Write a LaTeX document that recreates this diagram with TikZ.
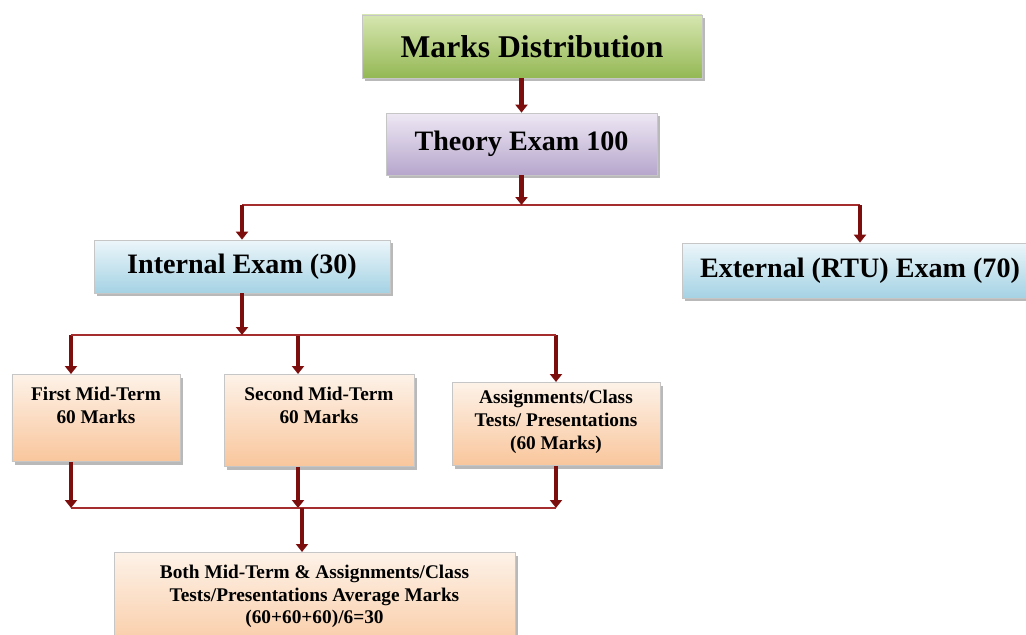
\documentclass[tikz,border=0pt]{standalone}
\usepackage{fontspec}
\setmainfont{Liberation Serif}
\usetikzlibrary{arrows.meta, shadows, calc}
\definecolor{linkred}{RGB}{125,14,14}
\definecolor{barred}{RGB}{165,45,45}
\definecolor{greentop}{RGB}{214,230,176}
\definecolor{greenbot}{RGB}{148,184,84}
\definecolor{lilactop}{RGB}{238,232,244}
\definecolor{lilacbot}{RGB}{182,166,204}
\definecolor{skytop}{RGB}{236,246,250}
\definecolor{skybot}{RGB}{164,210,228}
\definecolor{peachtop}{RGB}{253,242,232}
\definecolor{peachbot}{RGB}{249,198,156}

\begin{document}
\begin{tikzpicture}[
    every node/.style={font=\bfseries},
    box/.style={rectangle, draw=gray!45, line width=0.4pt, align=center, drop shadow={shadow xshift=1.5pt, shadow yshift=-1.8pt, fill=black!55}},
    bigbox/.style={box, font=\fontsize{16}{19}\selectfont\bfseries},
    smallbox/.style={box, anchor=north, font=\fontsize{11}{13}\selectfont\bfseries, inner xsep=2pt, inner ysep=0.25cm, top color=peachtop, bottom color=peachbot},
    link/.style={-{Triangle[length=1.6mm, width=2.4mm]}, line width=2.3pt, linkred},
    bar/.style={line width=1.4pt, barred}
]
\useasboundingbox (0,0) rectangle (20.52,-12.7);

\node[bigbox, font=\fontsize{18}{20}\selectfont\bfseries, minimum width=6.8cm, minimum height=1.26cm, top color=greentop, bottom color=greenbot] (md) at (10.64,-0.93) {Marks Distribution};
\node[bigbox, minimum width=5.42cm, minimum height=1.24cm, top color=lilactop, bottom color=lilacbot] (te) at (10.43,-2.88) {Theory Exam 100};
\node[bigbox, minimum width=5.92cm, minimum height=1.06cm, top color=skytop, bottom color=skybot] (ie) at (4.84,-5.33) {Internal Exam (30)};
\node[bigbox, minimum width=7.1cm, minimum height=1.1cm, top color=skytop, bottom color=skybot] (ee) at (17.2,-5.41) {External (RTU) Exam (70)};

\node[smallbox, minimum width=3.36cm, text depth=0.52cm] (fm) at (1.92,-7.48) {First Mid-Term\\60 Marks};
\node[smallbox, minimum width=3.8cm, text depth=0.62cm] (sm) at (6.38,-7.48) {Second Mid-Term\\60 Marks};
\node[smallbox, minimum width=4.16cm, inner ysep=0.16cm, text depth=0.16cm] (as) at (11.12,-7.64) {Assignments/Class\\Tests/ Presentations\\(60 Marks)};
\node[smallbox, minimum width=8.02cm, text depth=0.5cm] (bb) at (6.29,-11.04) {Both Mid-Term \& Assignments/Class\\Tests/Presentations Average Marks\\(60+60+60)/6=30};

\coordinate (bar1) at (0,-4.1);
\coordinate (bar2) at (0,-6.7);
\coordinate (bar3) at (0,-10.16);
\coordinate (bb-in) at ([xshift=-0.25cm]bb.north);

\draw[link] (te.north |- md.south) -- (te.north);
\draw[bar] (ie.north |- bar1) -- (ee.north |- bar1);
\draw[link] (te.south) -- (te.south |- bar1);
\foreach \n in {ie,ee} {
    \draw[link] (\n.north |- bar1) -- (\n.north);
}

\foreach \n/\dx in {fm/-0.5, sm/-0.42, as/0} {
    \coordinate (\n-in) at ([xshift=\dx cm]\n.north);
    \coordinate (\n-out) at ([xshift=\dx cm]\n.south);
    \draw[link] (\n-in |- bar2) -- (\n-in);
    \draw[link] (\n-out) -- (\n-out |- bar3);
}
\draw[bar] (fm-in |- bar2) -- (as-in |- bar2);
\draw[link] (ie.south) -- (ie.south |- bar2);
\draw[bar] (fm-out |- bar3) -- (as-out |- bar3);
\draw[link] (bb-in |- bar3) -- (bb-in);

\end{tikzpicture}
\end{document}
